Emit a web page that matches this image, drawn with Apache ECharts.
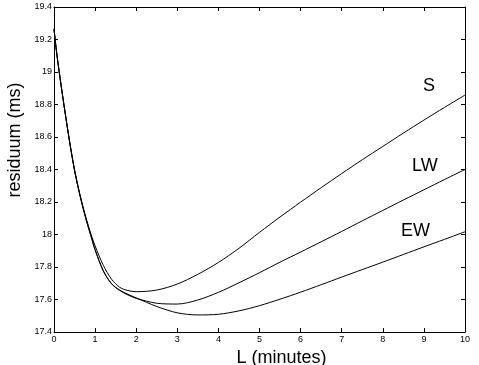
<!DOCTYPE html>
<html>
<head>
<meta charset="utf-8">
<script src="https://cdn.jsdelivr.net/npm/echarts@6/dist/echarts.min.js"></script>
<style>html,body{margin:0;padding:0;background:#fff}#c{width:479px;height:365px}</style>
</head>
<body>
<div id="c"></div>
<script>
var xs = [0, 0.05, 0.1, 0.2, 0.3, 0.4, 0.5, 0.6, 0.7, 0.8, 0.9, 1.0, 1.2, 1.4, 1.6, 1.8, 2.0, 2.5, 3.0, 3.5, 4.0, 4.5, 5.0, 5.5, 6.0, 6.5, 7.0, 7.5, 8.0, 8.5, 9.0, 9.5, 10];
var sVals  = [19.265, 19.15, 19.05, 18.87, 18.70, 18.54, 18.397, 18.28, 18.177, 18.085, 18.002, 17.93, 17.81, 17.725, 17.675, 17.655, 17.648, 17.658, 17.695, 17.755, 17.828, 17.915, 18.013, 18.108, 18.199, 18.288, 18.375, 18.46, 18.542, 18.624, 18.704, 18.782, 18.858];
var lwVals = [19.265, 19.15, 19.05, 18.87, 18.70, 18.54, 18.395, 18.275, 18.17, 18.075, 17.99, 17.907, 17.777, 17.697, 17.655, 17.628, 17.607, 17.577, 17.572, 17.597, 17.644, 17.703, 17.765, 17.83, 17.892, 17.955, 18.019, 18.084, 18.148, 18.212, 18.275, 18.338, 18.40];
var ewVals = [19.265, 19.15, 19.05, 18.87, 18.70, 18.54, 18.395, 18.275, 18.17, 18.075, 17.99, 17.905, 17.775, 17.697, 17.658, 17.632, 17.61, 17.557, 17.518, 17.505, 17.509, 17.53, 17.562, 17.602, 17.645, 17.691, 17.738, 17.784, 17.83, 17.877, 17.924, 17.97, 18.017];
var seriesNames = ['S', 'LW', 'EW'];

function pairs(v) { return xs.map(function (x, i) { return [x, v[i]]; }); }

var chart = echarts.init(document.getElementById('c'), null, {renderer: 'canvas'});
var font = 'Liberation Sans, Arial, Helvetica, sans-serif';
var axisCommon = {
  axisLine: {show: true, onZero: false, lineStyle: {color: '#000', width: 1}},
  axisTick: {show: true, inside: true, length: 4, lineStyle: {color: '#000', width: 1}},
  splitLine: {show: false}
};
var xBase = {type: 'value', min: 0, max: 10, interval: 1};
var yBase = {type: 'value', min: 17.4, max: 19.4, interval: 0.2};

function mk(base, extra) { return Object.assign({}, base, axisCommon, extra); }

chart.setOption({
  animation: false,
  backgroundColor: '#fff',
  grid: {left: 54, right: 14, top: 7, bottom: 33, containLabel: false, outerBoundsMode: 'none'},
  xAxis: [
    mk(xBase, {position: 'bottom', name: 'L (minutes)', nameLocation: 'middle', nameGap: 8,
      nameTextStyle: {fontFamily: font, fontSize: 18, color: '#000', padding: [0, 0, 0, 44]},
      axisLabel: {fontFamily: font, fontSize: 9, color: '#000', margin: 3}}),
    mk(xBase, {position: 'top', axisLabel: {show: false}})
  ],
  yAxis: [
    mk(yBase, {position: 'left', name: 'residuum (ms)', nameLocation: 'middle', nameGap: 20,
      nameTextStyle: {fontFamily: font, fontSize: 18, color: '#000', padding: [0, 0, 0, 59]},
      axisLabel: {fontFamily: font, fontSize: 9, color: '#000', margin: 2,
        formatter: function (v) { return String(parseFloat(v.toFixed(1))); }}}),
    mk(yBase, {position: 'right', axisLabel: {show: false}})
  ],
  series: [sVals, lwVals, ewVals].map(function (v, i) {
    return {
      name: seriesNames[i], type: 'line', data: pairs(v), smooth: 0.3,
      showSymbol: false, symbol: 'none',
      lineStyle: {color: '#000', width: 1}, z: 3
    };
  }),
  graphic: [
    {type: 'text', left: 423, top: 77, style: {text: 'S', font: '18px ' + font, fill: '#000'}},
    {type: 'text', left: 412, top: 157, style: {text: 'LW', font: '18px ' + font, fill: '#000'}},
    {type: 'text', left: 401, top: 222, style: {text: 'EW', font: '18px ' + font, fill: '#000'}}
  ]
});
</script>
</body>
</html>
